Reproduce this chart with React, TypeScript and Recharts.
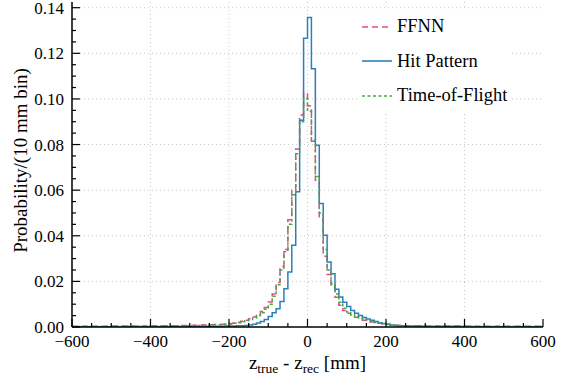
import { LineChart, Line, XAxis, YAxis, ReferenceLine } from "recharts";

// ─── Data ──────────────────────────────────────────────────────────
// 10 mm bins from -600 to 600 (left edges, plus the closing edge at 600)

const binEdges = Array.from({ length: 121 }, (_, i) => -600 + i * 10);

const ffnn = [
  0.0003, 0.0003, 0.0003, 0.0003, 0.0003, 0.0003, 0.0003, 0.0003, 0.0003, 0.0003,
  0.0004, 0.0004, 0.0004, 0.0004, 0.0004, 0.0004, 0.0004, 0.0004, 0.0004, 0.0004,
  0.0005, 0.0005, 0.0005, 0.0005, 0.0006, 0.0006, 0.0006, 0.0006, 0.0007, 0.0007,
  0.0007, 0.0008, 0.0008, 0.0009, 0.0009, 0.001, 0.0011, 0.0011, 0.0012, 0.0013,
  0.0015, 0.0018, 0.0021, 0.0025, 0.003, 0.0036, 0.0044, 0.0055, 0.0068, 0.0085,
  0.011, 0.0145, 0.0195, 0.0265, 0.034, 0.047, 0.06, 0.078, 0.093, 0.1028,
  0.097, 0.0814, 0.0643, 0.0475, 0.031, 0.023, 0.018, 0.013, 0.0095, 0.0072,
  0.006, 0.0051, 0.0043, 0.0036, 0.003, 0.0026, 0.0022, 0.0019, 0.0016, 0.0013,
  0.0011, 0.0009, 0.0008, 0.0007, 0.0006, 0.0006, 0.0005, 0.0005, 0.0005, 0.0004,
  0.0004, 0.0004, 0.0004, 0.0004, 0.0004, 0.0004, 0.0004, 0.0004, 0.0004, 0.0004,
  0.0003, 0.0003, 0.0003, 0.0003, 0.0003, 0.0003, 0.0003, 0.0003, 0.0003, 0.0003,
  0.0003, 0.0003, 0.0003, 0.0003, 0.0003, 0.0003, 0.0003, 0.0003, 0.0003, 0.0003,
];

const hitPattern = [
  0.0001, 0.0001, 0.0001, 0.0001, 0.0001, 0.0001, 0.0001, 0.0001, 0.0001, 0.0001,
  0.0001, 0.0001, 0.0001, 0.0001, 0.0001, 0.0001, 0.0001, 0.0001, 0.0001, 0.0001,
  0.0001, 0.0001, 0.0001, 0.0001, 0.0001, 0.0002, 0.0002, 0.0002, 0.0002, 0.0002,
  0.0002, 0.0002, 0.0002, 0.0002, 0.0003, 0.0003, 0.0003, 0.0003, 0.0003, 0.0004,
  0.0004, 0.0004, 0.0005, 0.0006, 0.0007, 0.0009, 0.0012, 0.0017, 0.0024, 0.0033,
  0.0046, 0.0062, 0.008, 0.0112, 0.0168, 0.0241, 0.0358, 0.0593, 0.0907, 0.1266,
  0.1357, 0.1132, 0.0797, 0.0541, 0.0402, 0.0285, 0.0234, 0.0165, 0.0132, 0.0108,
  0.009, 0.0072, 0.006, 0.005, 0.0042, 0.0035, 0.003, 0.0024, 0.0019, 0.0015,
  0.0012, 0.0009, 0.0007, 0.0006, 0.0005, 0.0004, 0.0004, 0.0003, 0.0003, 0.0003,
  0.0002, 0.0002, 0.0002, 0.0002, 0.0002, 0.0002, 0.0002, 0.0002, 0.0002, 0.0002,
  0.0002, 0.0002, 0.0001, 0.0001, 0.0001, 0.0001, 0.0001, 0.0001, 0.0001, 0.0001,
  0.0001, 0.0001, 0.0001, 0.0001, 0.0001, 0.0001, 0.0001, 0.0001, 0.0001, 0.0001,
];

const timeOfFlight = [
  0.0002, 0.0002, 0.0002, 0.0002, 0.0002, 0.0002, 0.0002, 0.0002, 0.0002, 0.0002,
  0.0003, 0.0003, 0.0003, 0.0003, 0.0003, 0.0003, 0.0003, 0.0003, 0.0003, 0.0003,
  0.0004, 0.0004, 0.0004, 0.0004, 0.0005, 0.0005, 0.0005, 0.0005, 0.0006, 0.0006,
  0.0006, 0.0007, 0.0007, 0.0008, 0.0008, 0.0009, 0.001, 0.001, 0.0011, 0.0012,
  0.0013, 0.0016, 0.0019, 0.0023, 0.0027, 0.0033, 0.004, 0.005, 0.0062, 0.0078,
  0.01, 0.0135, 0.0185, 0.025, 0.033, 0.045, 0.058, 0.076, 0.09, 0.1002,
  0.0946, 0.082, 0.066, 0.05, 0.034, 0.025, 0.019, 0.0145, 0.0108, 0.0082,
  0.0066, 0.0055, 0.0046, 0.0039, 0.0033, 0.0028, 0.0024, 0.002, 0.0017, 0.0014,
  0.0012, 0.001, 0.0008, 0.0007, 0.0006, 0.0005, 0.0005, 0.0004, 0.0004, 0.0004,
  0.0003, 0.0003, 0.0003, 0.0003, 0.0003, 0.0003, 0.0003, 0.0003, 0.0003, 0.0003,
  0.0002, 0.0002, 0.0002, 0.0002, 0.0002, 0.0002, 0.0002, 0.0002, 0.0002, 0.0002,
  0.0002, 0.0002, 0.0002, 0.0002, 0.0002, 0.0002, 0.0002, 0.0002, 0.0002, 0.0002,
];

const xMajorTicks = [-600, -400, -200, 0, 200, 400, 600];
const yMajorTicks = [0, 0.02, 0.04, 0.06, 0.08, 0.1, 0.12, 0.14];
const xAllTicks = Array.from({ length: 25 }, (_, i) => -600 + i * 50);
const yAllTicks = Array.from({ length: 29 }, (_, i) => +(i * 0.005).toFixed(3));

const series = [
  { key: "ffnn", name: "FFNN", color: "#e8488a", dash: "6 4" },
  { key: "hitPattern", name: "Hit Pattern", color: "#2c7fb8", dash: undefined },
  { key: "timeOfFlight", name: "Time-of-Flight", color: "#4aa843", dash: "3 2.5" },
];

const rows = binEdges.map((edge, i) => {
  const j = Math.min(i, 119);
  return { edge, ffnn: ffnn[j], hitPattern: hitPattern[j], timeOfFlight: timeOfFlight[j] };
});

// ─── Styling helpers ───────────────────────────────────────────────

const FONT = "'Liberation Serif', 'DejaVu Serif', serif";
const MAJOR = 8;
const MINOR = 4;
const tickTxt = { fontFamily: FONT, fontSize: 17, fill: "#000" };
const labelTxt = { fontFamily: FONT, fontSize: 19, fill: "#000" };

const isMajorX = (v: number) => xMajorTicks.includes(v);
const isMajorY = (v: number) => yMajorTicks.some((t) => Math.abs(t - v) < 1e-6);
const fmtX = (v: number) => (v < 0 ? `\u2212${Math.abs(v)}` : `${v}`);

// inward tick marks drawn by hand (tickSize 0 puts x/y right on the axis line)
function BottomTick({ x, y, payload }: any) {
  const major = isMajorX(payload.value);
  return (
    <g>
      <line x1={x} x2={x} y1={y} y2={y - (major ? MAJOR : MINOR)} stroke="#000" strokeWidth={1.2} />
      {major && (
        <text x={x} y={y + 20} textAnchor="middle" style={tickTxt}>
          {fmtX(payload.value)}
        </text>
      )}
    </g>
  );
}

function TopTick({ x, y, payload }: any) {
  const major = isMajorX(payload.value);
  return <line x1={x} x2={x} y1={y} y2={y + (major ? MAJOR : MINOR)} stroke="#000" strokeWidth={1.2} />;
}

function LeftTick({ x, y, payload }: any) {
  const major = isMajorY(payload.value);
  return (
    <g>
      <line x1={x} x2={x + (major ? MAJOR : MINOR)} y1={y} y2={y} stroke="#000" strokeWidth={1.2} />
      {major && (
        <text x={x - 8} y={y + 6} textAnchor="end" style={tickTxt}>
          {payload.value.toFixed(2)}
        </text>
      )}
    </g>
  );
}

function RightTick({ x, y, payload }: any) {
  const major = isMajorY(payload.value);
  return <line x1={x} x2={x - (major ? MAJOR : MINOR)} y1={y} y2={y} stroke="#000" strokeWidth={1.2} />;
}

function XLabel({ viewBox }: any) {
  const cx = viewBox.x + viewBox.width / 2;
  const by = viewBox.y + 42;
  return (
    <text x={cx} y={by} textAnchor="middle" style={labelTxt}>
      <tspan>z</tspan>
      <tspan fontSize={13.5} dy={4}>true</tspan>
      <tspan dy={-4}> - z</tspan>
      <tspan fontSize={13.5} dy={4}>rec</tspan>
      <tspan dy={-4}> [mm]</tspan>
    </text>
  );
}

function YLabel({ viewBox }: any) {
  const cx = viewBox.x + 15;
  const cy = viewBox.y + viewBox.height / 2 - 4;
  return (
    <text x={cx} y={cy} transform={`rotate(-90 ${cx} ${cy})`} textAnchor="middle" style={labelTxt}>
      Probability/(10 mm bin)
    </text>
  );
}

// legend drawn as plain HTML over the plot; white box hides the grid behind it
function LegendBox() {
  return (
    <div
      style={{
        position: "absolute",
        left: 357,
        top: 9,
        width: 150,
        padding: "0.5px 0 0 3px",
        height: 103,
        background: "#fff",
        fontFamily: FONT,
        fontSize: 18.5,
        color: "#000",
      }}
    >
      {series.map((s) => (
        <div key={s.key} style={{ display: "flex", alignItems: "center", height: 34.5, whiteSpace: "nowrap" }}>
          <svg width={33} height={10} style={{ marginRight: 4 }}>
            <line x1={2} x2={32} y1={5} y2={5} stroke={s.color} strokeWidth={1.6} strokeDasharray={s.dash} />
          </svg>
          <span>{s.name}</span>
        </div>
      ))}
    </div>
  );
}

// ─── Component ─────────────────────────────────────────────────────

export default function App() {
  const axisLine = { stroke: "#000", strokeWidth: 1.5 };
  return (
    <div style={{ position: "absolute", left: 0, top: 0, width: 564, height: 381, background: "#fff", fontFamily: FONT }}>
      <LineChart width={564} height={381} data={rows} margin={{ top: 2, right: 21, bottom: 0, left: 12 }}>
        <XAxis
          dataKey="edge"
          type="number"
          domain={[-600, 600]}
          ticks={xAllTicks}
          interval={0}
          allowDataOverflow
          tickLine={false}
          tickSize={0}
          tickMargin={0}
          tick={BottomTick}
          axisLine={axisLine}
          height={54}
          label={{ content: XLabel }}
        />
        <XAxis
          xAxisId="top"
          orientation="top"
          type="number"
          domain={[-600, 600]}
          ticks={xAllTicks}
          interval={0}
          allowDataOverflow
          tickLine={false}
          tickSize={0}
          tickMargin={0}
          tick={TopTick}
          axisLine={axisLine}
          height={0}
        />
        <YAxis
          type="number"
          domain={[0, 0.1425]}
          ticks={yAllTicks}
          interval={0}
          allowDataOverflow
          tickLine={false}
          tickSize={0}
          tickMargin={0}
          tick={LeftTick}
          axisLine={axisLine}
          width={60}
          label={{ content: YLabel }}
        />
        <YAxis
          yAxisId="right"
          orientation="right"
          type="number"
          domain={[0, 0.1425]}
          ticks={yAllTicks}
          interval={0}
          allowDataOverflow
          tickLine={false}
          tickSize={0}
          tickMargin={0}
          tick={RightTick}
          axisLine={axisLine}
          width={0}
        />

        {/* dotted grid at the major ticks */}
        {xMajorTicks.slice(1, -1).map((v) => (
          <ReferenceLine key={`gx${v}`} x={v} stroke="#c8c8c8" strokeDasharray="1 3" strokeWidth={1} />
        ))}
        {yMajorTicks.slice(1).map((v) => (
          <ReferenceLine key={`gy${v}`} y={v} stroke="#c8c8c8" strokeDasharray="1 3" strokeWidth={1} />
        ))}

        {series.map((s) => (
          <Line
            key={s.key}
            type="stepAfter"
            dataKey={s.key}
            name={s.name}
            stroke={s.color}
            strokeWidth={1.5}
            strokeDasharray={s.dash}
            dot={false}
            activeDot={false}
            isAnimationActive={false}
          />
        ))}
      </LineChart>
      <LegendBox />
    </div>
  );
}
